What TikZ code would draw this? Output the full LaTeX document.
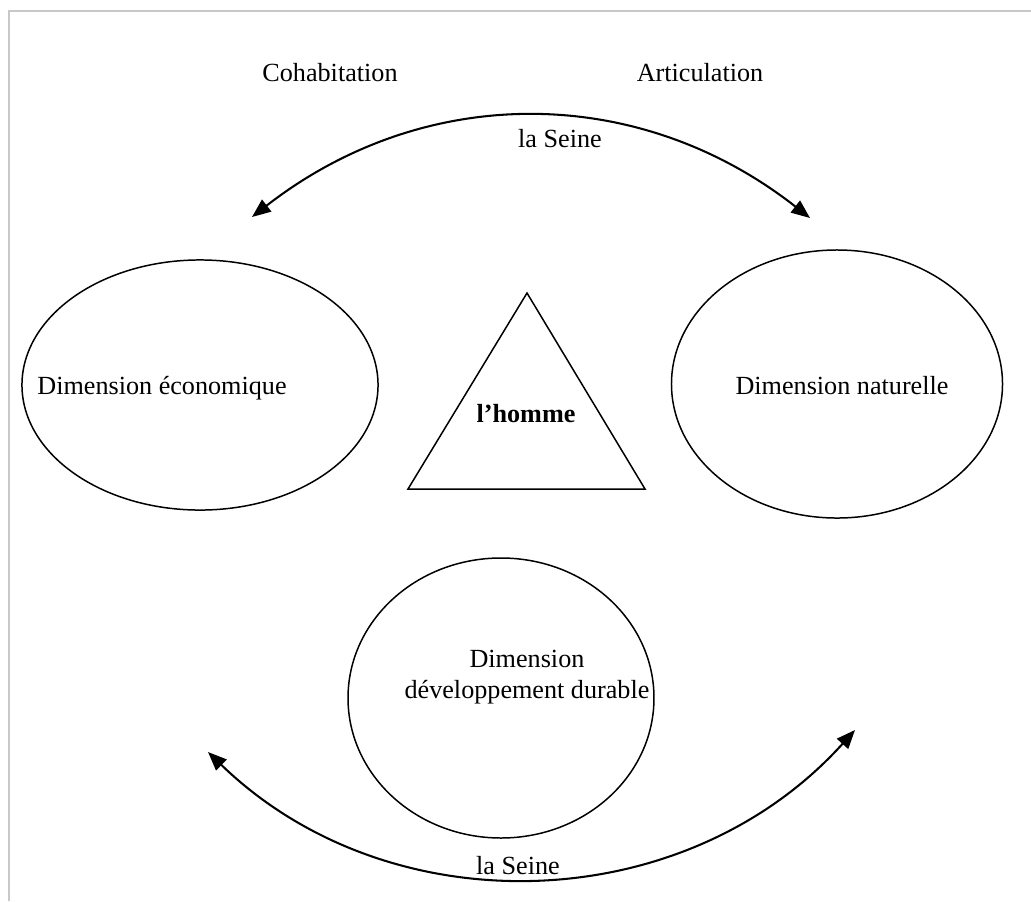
\documentclass[tikz,border=0pt]{standalone}
\usepackage{fontspec}
\setmainfont{Liberation Serif}
\usetikzlibrary{arrows.meta,shapes.geometric}
\definecolor{framecolor}{RGB}{200,200,200}

\begin{document}
\begin{tikzpicture}[x=0.535pt, y=-0.535pt,
    dimension/.style={ellipse, draw, line width=0.8pt, inner sep=0pt},
    label/.style={font=\fontsize{14}{17}\selectfont, align=center, inner sep=0pt},
    seine/.style={line width=1.1pt, {Triangle[length=10pt,width=8pt]}-{Triangle[length=10pt,width=8pt]}}
  ]
  \useasboundingbox (0,0) rectangle (1031,901);
  \draw[framecolor, line width=1.1pt] (9,901) -- (9,11) -- (1031,11);

  \node[dimension, minimum width=190.5pt, minimum height=133.8pt] (eco) at (200,385) {};
  \node[dimension, minimum width=177.1pt, minimum height=143.4pt] (nat) at (837,384) {};
  \node[dimension, minimum width=163.7pt, minimum height=149.8pt] (dd)  at (501,698) {};

  \coordinate (apex)  at (527,293);
  \coordinate (baseL) at (408,489);
  \coordinate (baseR) at (645,489);
  \draw[line width=0.8pt] (apex) -- (baseR) -- (baseL) -- cycle;

  \node[label] (homme) at (526,414) {\textbf{l'homme}};
  \node[label] (ecotext) at (162,388) {Dimension économique};
  \node[label] (nattext) at (842,386) {Dimension naturelle};
  \node[label] (ddtext)  at (527,677) {Dimension\\développement durable};

  \node[label] (cohab) at (330,73) {Cohabitation};
  \node[label] (artic) at (700,73) {Articulation};
  \node[label] (seinetop) at (560,139) {la Seine};
  \node[label] (seinebot) at (518,866) {la Seine};

  \coordinate (topL) at (252,217);
  \coordinate (topR) at (810,218);
  \coordinate (botL) at (208,752);
  \coordinate (botR) at (855,730);
  \draw[seine] (topL) to[bend left=38] (topR);
  \draw[seine] (botL) to[bend right=46] (botR);
\end{tikzpicture}
\end{document}
